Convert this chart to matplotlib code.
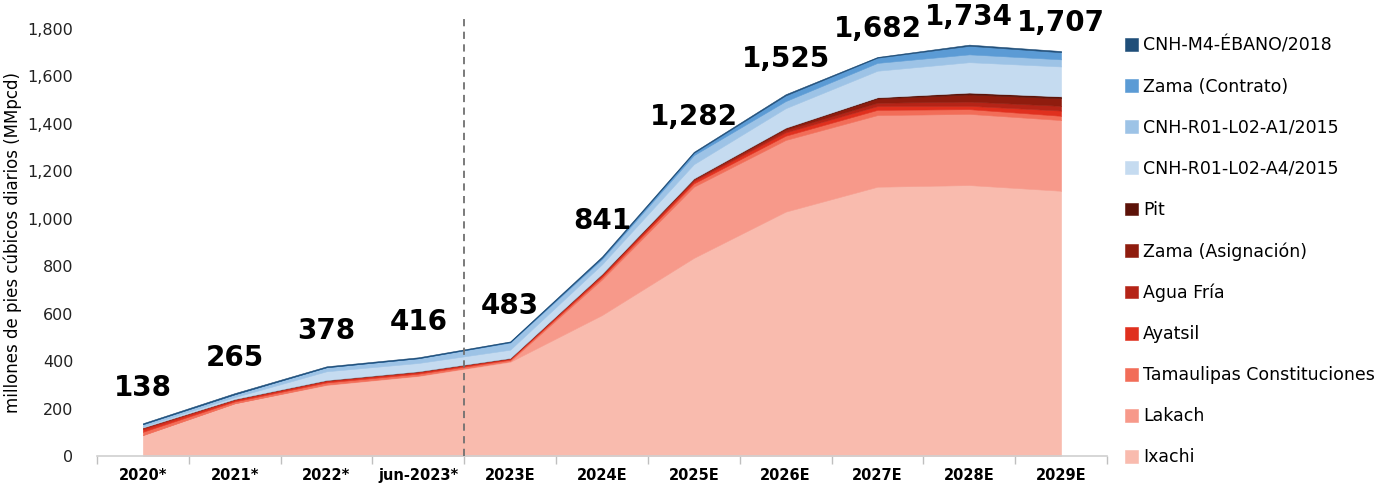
import matplotlib.pyplot as plt

plt.rcParams['font.family'] = ['DejaVu Sans']

years = ["2020*", "2021*", "2022*", "jun-2023*", "2023E", "2024E",
         "2025E", "2026E", "2027E", "2028E", "2029E"]

# series, bottom to top (MMpcd)
ixachi      = [88, 222, 299, 337, 397, 594, 835, 1030, 1135, 1142, 1118]
lakach      = [0, 0, 2, 2, 3, 150, 300, 302, 302, 300, 298]
tamaulipas  = [14, 8, 9, 8, 6, 10, 14, 18, 22, 20, 18]
ayatsil     = [10, 6, 6, 6, 4, 8, 10, 14, 16, 14, 22]
agua_fria   = [8, 4, 4, 4, 3, 4, 6, 10, 14, 18, 20]
zama_asig   = [0, 0, 0, 0, 0, 2, 4, 8, 18, 30, 32]
pit         = [0, 0, 0, 0, 0, 0, 1, 2, 5, 8, 8]
a4_2015     = [4, 8, 37, 35, 35, 40, 60, 82, 112, 128, 126]
a1_2015     = [10, 12, 17, 20, 30, 22, 38, 30, 33, 33, 30]
zama_contr  = [0, 0, 0, 0, 2, 6, 10, 24, 22, 36, 30]
ebano       = [4, 5, 4, 4, 3, 5, 4, 5, 3, 5, 5]

totals = [138, 265, 378, 416, 483, 841, 1282, 1525, 1682, 1734, 1707]

names = ["Ixachi", "Lakach", "Tamaulipas Constituciones", "Ayatsil", "Agua Fría",
         "Zama (Asignación)", "Pit", "CNH-R01-L02-A4/2015", "CNH-R01-L02-A1/2015",
         "Zama (Contrato)", "CNH-M4-ÉBANO/2018"]
colors = ["#F9BBAE", "#F7998A", "#F26D58", "#E0301E", "#B52417", "#8F1C0E",
          "#5C1208", "#C5DBF0", "#9DC3E6", "#5B9BD5", "#1F4E79"]

series = [ixachi, lakach, tamaulipas, ayatsil, agua_fria, zama_asig, pit,
          a4_2015, a1_2015, zama_contr, ebano]

fig = plt.figure(figsize=(13.97, 4.87), dpi=100)
ax = fig.add_axes([0.0694, 0.0637, 0.7230, 0.8768])

x = list(range(len(years)))
polys = ax.stackplot(x, *series, colors=colors, labels=names, linewidth=0.4)
for p, c in zip(polys, colors):
    p.set_edgecolor(c)

# divider between historic and estimated
ax.axvline(3.5, ymin=0, ymax=1.025, color="#707070", linestyle=(0, (4, 3)),
           linewidth=1.3, clip_on=False, zorder=5)

# total labels
for i, t in enumerate(totals):
    off = 118 if t > 1600 else 148
    ax.text(i, t + off, f"{t:,}", ha="center", va="center",
            fontsize=20, fontweight="bold", color="black", clip_on=False)

ax.set_xlim(-0.5, len(years) - 0.5)
ax.set_ylim(0, 1800)
ax.set_yticks(range(0, 1801, 200))
ax.set_yticklabels([f"{v:,}" for v in range(0, 1801, 200)], fontsize=11.5, color="#222222")
ax.set_xticks(x)
ax.set_xticklabels(years, fontsize=10.5, fontweight="bold")
ax.set_xticks([i - 0.5 for i in range(len(years) + 1)], minor=True)
ax.tick_params(axis="x", which="major", length=0, pad=9)
ax.tick_params(axis="x", which="minor", length=6, color="#BFBFBF", width=1)
ax.tick_params(axis="y", length=0, pad=17)

for s in ["top", "right", "left"]:
    ax.spines[s].set_visible(False)
ax.spines["bottom"].set_color("#D0D0D0")
ax.spines["bottom"].set_linewidth(1.2)

ax.set_ylabel("millones de pies cúbicos diarios (MMpcd)", fontsize=12, labelpad=4)

handles, labels = ax.get_legend_handles_labels()
leg = fig.legend(handles[::-1], labels[::-1], loc="upper left",
                 bbox_to_anchor=(0.794, 0.957), frameon=False, fontsize=12.5,
                 handlelength=0.75, handleheight=0.75, handletextpad=0.3,
                 labelspacing=1.33)

fig.savefig("out.png", dpi=100)
